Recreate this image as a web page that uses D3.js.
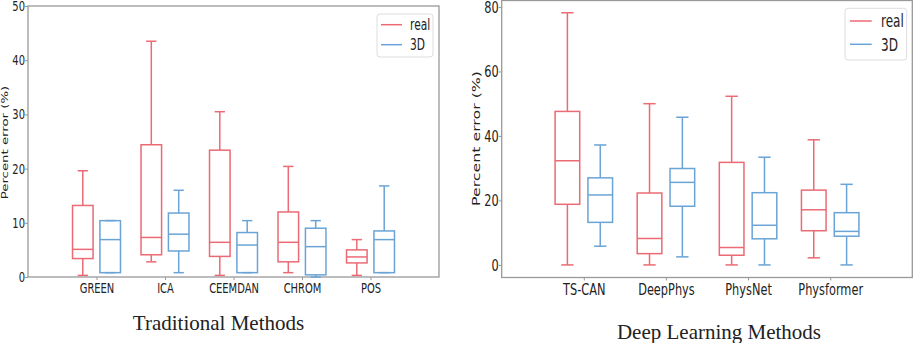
<!DOCTYPE html>
<html>
<head>
<meta charset="utf-8">
<script src="https://cdn.jsdelivr.net/npm/d3@7"></script>
<style>
  html, body { margin: 0; padding: 0; background: #fff; }
  svg { display: block; }
  text { font-family: "DejaVu Sans", sans-serif; fill: #222; }
</style>
</head>
<body>
<svg id="chart" width="913" height="343"></svg>
<script>
// ---------- data ----------
// each box: [lower whisker, Q1, median, Q3, upper whisker]
const tradCategories = ["GREEN", "ICA", "CEEMDAN", "CHROM", "POS"];
const tradReal = [
  [0.3, 3.4, 5.1, 13.2, 19.6],
  [2.8, 4.1, 7.3, 24.4, 43.5],
  [0.3, 3.8, 6.4, 23.4, 30.5],
  [0.8, 2.8, 6.4, 12.0, 20.4],
  [0.3, 2.6, 3.7, 5.0, 6.9]
];
const trad3D = [
  [0.8, 0.8, 6.9, 10.4, 10.4],
  [0.8, 4.8, 7.9, 11.8, 16.0],
  [0.8, 0.8, 5.9, 8.2, 10.4],
  [0.0, 0.4, 5.6, 9.0, 10.4],
  [0.8, 0.8, 6.9, 8.5, 16.8]
];
const tradTicks = [0, 10, 20, 30, 40, 50];

const deepCategories = ["TS-CAN", "DeepPhys", "PhysNet", "Physformer"];
const deepReal = [
  [0.0, 18.8, 32.3, 47.6, 78.2],
  [0.0, 3.5, 8.2, 22.3, 50.0],
  [0.0, 3.0, 5.4, 31.8, 52.3],
  [2.2, 10.6, 17.1, 23.2, 38.8]
];
const deep3D = [
  [5.8, 13.2, 21.7, 27.0, 37.2],
  [2.5, 18.2, 25.6, 29.9, 45.8],
  [0.0, 8.1, 12.3, 22.4, 33.4],
  [0.0, 8.9, 10.4, 16.2, 25.0]
];
const deepTicks = [0, 20, 40, 60, 80];

const seriesNames = ["real", "3D"];
const yLabel = "Percent error (%)";
const panelTitles = ["Traditional Methods", "Deep Learning Methods"];

// ---------- style ----------
const colors = ["#eb6a74", "#6aa4d6"];
const SQ = 0.71; // horizontal squeeze of the original picture

const svg = d3.select("#chart");

function drawPanel(cfg) {
  const g = svg.append("g");
  const n = cfg.categories.length;
  const x = d3.scaleLinear().domain([0, n + 1]).range([cfg.left, cfg.right]);
  const y = d3.scaleLinear().domain(cfg.yDomain).range([cfg.bottom, cfg.top]);
  const unit = x(1) - x(0);

  // frame
  g.append("rect")
    .attr("x", cfg.left).attr("y", cfg.top)
    .attr("width", cfg.right - cfg.left).attr("height", cfg.bottom - cfg.top)
    .attr("fill", "none").attr("stroke", "#999").attr("stroke-width", 1.3);

  // y axis
  const ya = g.append("g").attr("transform", `translate(${cfg.left},0)`)
    .call(d3.axisLeft(y).tickValues(cfg.ticks).tickSize(3).tickPadding(0).tickFormat(d3.format("d")));
  ya.select(".domain").remove();
  ya.selectAll("line").attr("stroke", "#999");
  ya.selectAll("text")
    .attr("font-size", cfg.fs).attr("font-family", "DejaVu Sans")
    .attr("transform", `scale(${SQ},1)`).attr("x", -3 / SQ);

  // x axis
  const xa = g.append("g").attr("transform", `translate(0,${cfg.bottom})`)
    .call(d3.axisBottom(x).tickValues(d3.range(1, n + 1)).tickSize(3).tickPadding(3)
      .tickFormat((d) => cfg.categories[d - 1]));
  xa.select(".domain").remove();
  xa.selectAll("line").attr("stroke", "#999");
  xa.selectAll("text")
    .attr("font-size", cfg.fs).attr("font-family", "DejaVu Sans")
    .attr("transform", `scale(${SQ},1)`);

  // boxes
  const bw = 0.3 * unit, cw = 0.15 * unit;
  [cfg.real, cfg.d3].forEach((series, si) => {
    const off = si === 0 ? -0.2 : 0.2;
    series.forEach((b, i) => {
      const cx = x(i + 1 + off);
      const [lo, q1, md, q3, hi] = b;
      const bg = g.append("g").attr("stroke", colors[si]).attr("stroke-width", 1.5).attr("fill", "none");
      bg.append("line").attr("x1", cx).attr("x2", cx).attr("y1", y(lo)).attr("y2", y(q1));
      bg.append("line").attr("x1", cx).attr("x2", cx).attr("y1", y(q3)).attr("y2", y(hi));
      bg.append("line").attr("x1", cx - cw / 2).attr("x2", cx + cw / 2).attr("y1", y(lo)).attr("y2", y(lo));
      bg.append("line").attr("x1", cx - cw / 2).attr("x2", cx + cw / 2).attr("y1", y(hi)).attr("y2", y(hi));
      bg.append("rect").attr("x", cx - bw / 2).attr("width", bw)
        .attr("y", y(q3)).attr("height", y(q1) - y(q3));
      bg.append("line").attr("x1", cx - bw / 2).attr("x2", cx + bw / 2).attr("y1", y(md)).attr("y2", y(md));
    });
  });

  // y label
  g.append("text")
    .attr("transform", `translate(${cfg.ylabX},${cfg.ylabY}) scale(${SQ},1) rotate(-90)`)
    .attr("text-anchor", "middle").attr("dominant-baseline", "central")
    .attr("font-size", cfg.ylabFs).text(yLabel);

  // legend
  const L = cfg.legend;
  g.append("rect").attr("x", L.x0).attr("y", L.y0).attr("width", L.x1 - L.x0).attr("height", L.y1 - L.y0)
    .attr("rx", 3).attr("fill", "#fff").attr("stroke", "#ddd").attr("stroke-width", 1);
  seriesNames.forEach((nm, si) => {
    const ly = L.rows[si];
    g.append("line").attr("x1", L.lx0).attr("x2", L.lx1).attr("y1", ly).attr("y2", ly)
      .attr("stroke", colors[si]).attr("stroke-width", 1.5);
    g.append("text").attr("transform", `translate(${L.tx},${ly}) scale(${SQ},1)`)
      .attr("dominant-baseline", "central").attr("font-size", L.fs).text(nm);
  });

  // title
  svg.append("text").attr("x", cfg.titleX).attr("y", cfg.titleY)
    .attr("text-anchor", "middle")
    .style("font-family", "'Liberation Serif', 'Times New Roman', serif")
    .attr("font-size", 21).text(cfg.title);
}

drawPanel({
  categories: tradCategories, real: tradReal, d3: trad3D, ticks: tradTicks,
  yDomain: [0, 50], left: 28, right: 439, top: 6, bottom: 277, fs: 14,
  ylabX: 4.5, ylabY: 142.5, ylabFs: 13.3,
  legend: { x0: 377, x1: 433, y0: 14, y1: 57, rows: [24.7, 44.7], lx0: 381, lx1: 402, tx: 410, fs: 15 },
  title: panelTitles[0], titleX: 218.5, titleY: 330
});

drawPanel({
  categories: deepCategories, real: deepReal, d3: deep3D, ticks: deepTicks,
  yDomain: [-3.9, 82], left: 501.7, right: 912.3, top: 0.5, bottom: 277.5, fs: 16,
  ylabX: 475.7, ylabY: 138.5, ylabFs: 15.8,
  legend: { x0: 845, x1: 906.7, y0: 8.3, y1: 60, rows: [21, 44.3], lx0: 850, lx1: 871.7, tx: 881, fs: 17 },
  title: panelTitles[1], titleX: 719, titleY: 339.3
});
</script>
</body>
</html>
